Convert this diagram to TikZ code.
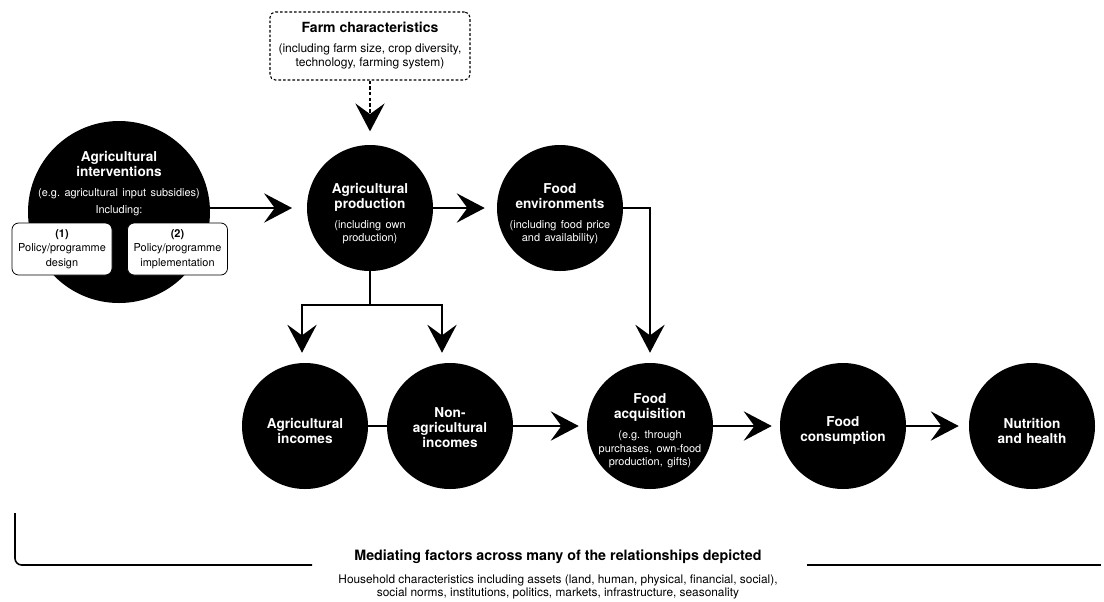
\documentclass[tikz,border=0pt]{standalone}
\usepackage{fontspec}
\setmainfont{TeX Gyre Heros}
\usetikzlibrary{arrows.meta}
\frenchspacing
\newcommand\TtlF{\fontsize{10.2pt}{11.25pt}\selectfont\bfseries}
\newcommand\SmlF{\fontsize{8.2pt}{10.2pt}\selectfont}
\begin{document}
\begin{tikzpicture}[x=0.75pt,y=-0.75pt,
  bigc/.style={circle, fill=black, inner sep=0pt, minimum size=94.5pt},
  hugec/.style={circle, fill=black, inner sep=0pt, minimum size=136.5pt},
  ctext/.style={text=white, align=center, text width=110pt, inner sep=0pt},
  subbox/.style={draw=black, line width=0.6pt, fill=white, rounded corners=5pt, minimum width=75pt, minimum height=39pt, align=center, inner sep=0pt},
  farmbox/.style={draw=black, line width=0.8pt, dash pattern=on 2pt off 1.5pt, rounded corners=4pt, minimum width=150pt, minimum height=51pt, align=center, inner sep=0pt},
  conn/.style={line width=1.4pt},
  arr/.style={line width=1.4pt, -{Stealth[length=21pt,width=22pt,inset=8pt]}},
  dasharr/.style={line width=1pt, dash pattern=on 2.5pt off 1.8pt, -{Stealth[length=21pt,width=22pt,inset=8pt]}},
  bracket/.style={line width=1.2pt, rounded corners=5pt}
]
\useasboundingbox (0,0) rectangle (1104,601);

% circles
\node[hugec] (int) at (119,212) {};
\node[bigc] (prod) at (370,208) {};
\node[bigc] (env) at (560,208) {};
\node[bigc] (ai) at (305,426) {};
\node[bigc] (nai) at (450,426) {};
\node[bigc] (acq) at (650,426) {};
\node[bigc] (cons) at (843,426) {};
\node[bigc] (nut) at (1032,426) {};

% texts in circles
\node[ctext, text width=150pt] (intT) at (119,184) {{\TtlF Agricultural\\interventions\par}\vspace{4.5pt}{\SmlF (e.g. agricultural input subsidies)\par}\vspace{3pt}{\SmlF Including:\par}};
\node[ctext] (prodT) at (370,214) {{\TtlF Agricultural\\production\par}\vspace{4.5pt}{\SmlF (including own\\production)\par}};
\node[ctext] (envT) at (560,214) {{\TtlF Food\\environments\par}\vspace{4.5pt}{\SmlF (including food price\\and availability)\par}};
\node[ctext] (aiT) at (305,431) {{\TtlF Agricultural\\incomes\par}};
\node[ctext] (naiT) at (450,428) {{\TtlF Non-\\agricultural\\incomes\par}};
\node[ctext] (acqT) at (650,431) {{\TtlF Food\\acquisition\par}\vspace{4.5pt}{\SmlF (e.g. through\\purchases, own-food\\production, gifts)\par}};
\node[ctext] (consT) at (843,431) {{\TtlF Food\\consumption\par}};
\node[ctext] (nutT) at (1032,431) {{\TtlF Nutrition\\and health\par}};

% sub boxes
\node[subbox] (b1) at (62,249) {{\SmlF\bfseries (1)}\\[-1pt]{\SmlF Policy/programme}\\[-1pt]{\SmlF design}};
\node[subbox] (b2) at (177.5,249) {{\SmlF\bfseries (2)}\\[-1pt]{\SmlF Policy/programme}\\[-1pt]{\SmlF implementation}};

% farm characteristics
\node[farmbox] (farm) at (370,46) {{\fontsize{10.5pt}{12pt}\selectfont\bfseries Farm characteristics}\\[3pt]{\fontsize{9pt}{10pt}\selectfont (including farm size, crop diversity,}\\[-1.5pt]{\fontsize{9pt}{10pt}\selectfont technology, farming system)}};

% connectors
\draw[dasharr, shorten >=10pt] (farm.south) -- (prod.north);
\draw[arr, shorten >=11pt] (int.east |- prod.west) -- (prod.west);
\draw[arr, shorten >=9pt] (prod.east) -- (env.west);
\draw[arr, shorten >=7.5pt] (env.east) -| (acq.north);
\coordinate (split) at (370,305);
\draw[conn] (prod.south) -- (split);
\draw[arr, shorten >=7.5pt] (split) -| ([xshift=-2.25pt]ai.north);
\draw[arr, shorten >=7.5pt] (split) -| ([xshift=-6pt]nai.north);
\draw[conn] (ai.east) -- (nai.west);
\draw[arr, shorten >=6pt] (nai.east) -- (acq.west);
\draw[arr, shorten >=6pt] (acq.east) -- (cons.west);
\draw[arr, shorten >=7.5pt] (cons.east) -- (nut.west);

% mediating factors
\node[align=center, inner sep=0pt] (medT) at (558,557) {\fontsize{10.7pt}{12pt}\selectfont\bfseries Mediating factors across many of the relationships depicted};
\node[align=center, inner sep=0pt] (medS) at (558,587) {{\fontsize{8.9pt}{9.5pt}\selectfont Household characteristics including assets (land, human, physical, financial, social),}\\[-2pt]{\fontsize{8.9pt}{9.5pt}\selectfont social norms, institutions, politics, markets, infrastructure, seasonality}};
\draw[bracket] (15,513) -- (15,565) -- (312,565);
\draw[line width=1.2pt] (807,565) -- (1101,565);
\end{tikzpicture}
\end{document}
